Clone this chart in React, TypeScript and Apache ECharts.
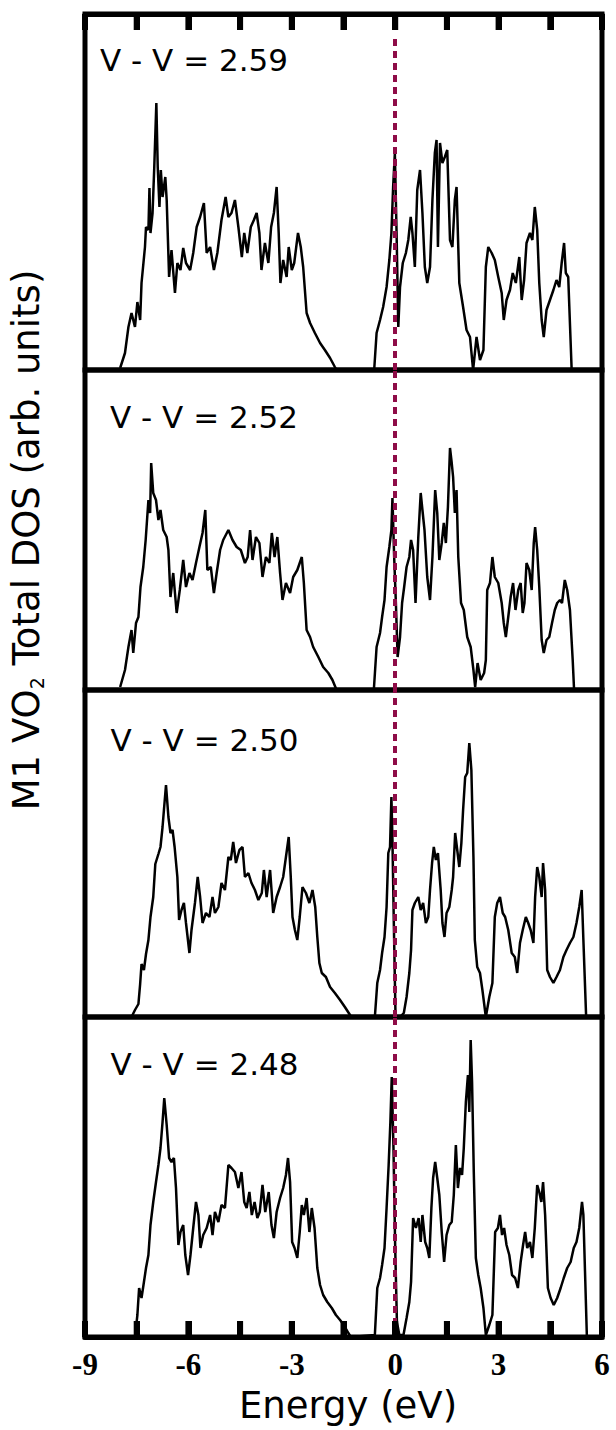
import React, { useEffect, useRef } from "react";
import * as echarts from "echarts";

// ---------- data ----------
const X_MIN = -9;
const X_MAX = 6;
const X_STEP = 1.5;
const X_LABELS = [-9, -6, -3, 0, 3, 6];
const TICK_ENERGIES = [-7.5, -6, -4.5, -3, -1.5, 0, 1.5, 3, 4.5];
const FERMI_LEVEL = 0;

const PANEL_LABELS = ["V - V = 2.59", "V - V = 2.52", "V - V = 2.50", "V - V = 2.48"];

const DOS_259: [number, number][] = [
  [-7.98, 2], [-7.84, 17], [-7.74, 43], [-7.65, 57], [-7.55, 43], [-7.48, 68], [-7.4, 50], [-7.36, 87],
  [-7.26, 123], [-7.23, 143], [-7.16, 140], [-7.13, 182], [-7.1, 137], [-7.04, 157], [-6.99, 203], [-6.93, 267],
  [-6.89, 203], [-6.84, 163], [-6.8, 200], [-6.75, 173], [-6.67, 193], [-6.63, 170], [-6.56, 93], [-6.49, 120],
  [-6.39, 77], [-6.32, 107], [-6.23, 100], [-6.15, 122], [-6.07, 107], [-5.95, 100], [-5.86, 117], [-5.76, 143],
  [-5.66, 153], [-5.55, 167], [-5.47, 117], [-5.37, 123], [-5.26, 100], [-5.16, 117], [-5.04, 150], [-4.92, 173],
  [-4.84, 153], [-4.75, 157], [-4.65, 170], [-4.55, 143], [-4.45, 113], [-4.38, 137], [-4.29, 117], [-4.19, 143],
  [-4.1, 150], [-4.02, 157], [-3.94, 137], [-3.88, 100], [-3.78, 127], [-3.68, 107], [-3.6, 143], [-3.52, 157],
  [-3.44, 183], [-3.38, 137], [-3.33, 87], [-3.25, 110], [-3.15, 93], [-3.09, 123], [-3.0, 100], [-2.93, 107],
  [-2.82, 137], [-2.74, 123], [-2.67, 103], [-2.57, 57], [-2.47, 47], [-2.33, 37], [-2.18, 27], [-2.04, 20],
  [-1.89, 12], [-1.75, 3], [-1.7, 0],
  [-0.61, 0], [-0.54, 37], [-0.44, 50], [-0.35, 63], [-0.25, 83], [-0.17, 110], [-0.11, 137], [-0.06, 183],
  [-0.01, 217], [0.04, 137], [0.09, 43], [0.14, 83], [0.22, 107], [0.31, 117], [0.38, 130], [0.45, 153],
  [0.5, 137], [0.57, 103], [0.64, 180], [0.72, 200], [0.79, 157], [0.86, 103], [0.93, 87], [1.01, 103],
  [1.08, 170], [1.15, 217], [1.2, 230], [1.24, 123], [1.3, 227], [1.37, 207], [1.44, 213], [1.51, 220],
  [1.59, 130], [1.66, 123], [1.73, 170], [1.78, 183], [1.86, 87], [1.97, 63], [2.07, 40], [2.17, 33],
  [2.26, 0], [2.36, 33], [2.46, 10], [2.56, 20], [2.63, 103], [2.7, 123], [2.8, 117], [2.89, 110],
  [2.99, 93], [3.09, 77], [3.15, 50], [3.23, 70], [3.33, 80], [3.41, 97], [3.5, 87], [3.6, 113],
  [3.67, 70], [3.74, 90], [3.81, 127], [3.91, 137], [3.98, 130], [4.05, 163], [4.12, 140], [4.18, 87],
  [4.25, 50], [4.31, 33], [4.39, 60], [4.49, 70], [4.59, 80], [4.68, 90], [4.76, 83], [4.83, 107],
  [4.9, 127], [4.95, 97], [5.02, 93], [5.12, 0],
];

const DOS_252: [number, number][] = [
  [-7.98, 3], [-7.84, 20], [-7.74, 43], [-7.65, 60], [-7.6, 37], [-7.52, 67], [-7.45, 73], [-7.39, 103],
  [-7.31, 123], [-7.24, 150], [-7.16, 190], [-7.11, 177], [-7.08, 227], [-7.02, 197], [-6.94, 190], [-6.87, 170],
  [-6.81, 180], [-6.73, 160], [-6.63, 153], [-6.58, 140], [-6.52, 93], [-6.44, 117], [-6.34, 77], [-6.25, 100],
  [-6.15, 130], [-6.07, 103], [-5.97, 117], [-5.88, 110], [-5.78, 127], [-5.68, 143], [-5.59, 157], [-5.51, 180],
  [-5.45, 120], [-5.35, 123], [-5.26, 97], [-5.18, 117], [-5.08, 140], [-4.99, 150], [-4.84, 160], [-4.72, 150],
  [-4.6, 143], [-4.48, 140], [-4.36, 127], [-4.28, 133], [-4.21, 160], [-4.14, 130], [-4.04, 153], [-3.94, 147],
  [-3.85, 113], [-3.75, 133], [-3.65, 127], [-3.58, 157], [-3.5, 133], [-3.42, 153], [-3.34, 117], [-3.27, 90],
  [-3.17, 107], [-3.05, 97], [-2.96, 113], [-2.84, 120], [-2.77, 127], [-2.71, 133], [-2.65, 107], [-2.57, 60],
  [-2.47, 53], [-2.38, 43], [-2.23, 33], [-2.09, 23], [-1.94, 17], [-1.82, 10], [-1.7, 0],
  [-0.62, 0], [-0.54, 43], [-0.44, 57], [-0.38, 73], [-0.31, 90], [-0.25, 123], [-0.17, 143], [-0.11, 160],
  [-0.08, 192], [-0.03, 133], [0.02, 87], [0.07, 33], [0.14, 53], [0.2, 87], [0.26, 103], [0.33, 123],
  [0.41, 133], [0.46, 150], [0.52, 140], [0.59, 87], [0.67, 153], [0.74, 197], [0.79, 180], [0.85, 160],
  [0.93, 113], [1.01, 90], [1.08, 133], [1.16, 200], [1.22, 177], [1.28, 130], [1.35, 147], [1.41, 167],
  [1.47, 147], [1.53, 183], [1.59, 242], [1.64, 227], [1.68, 213], [1.73, 177], [1.78, 200], [1.83, 133],
  [1.91, 87], [1.99, 80], [2.09, 53], [2.19, 43], [2.27, 20], [2.32, 3], [2.39, 27], [2.48, 10],
  [2.58, 17], [2.63, 30], [2.67, 100], [2.75, 107], [2.82, 133], [2.89, 113], [2.99, 107], [3.09, 87],
  [3.15, 67], [3.21, 53], [3.28, 73], [3.35, 93], [3.42, 107], [3.49, 80], [3.57, 100], [3.64, 107],
  [3.7, 77], [3.75, 87], [3.81, 127], [3.89, 120], [3.96, 100], [4.02, 147], [4.06, 163], [4.12, 140],
  [4.18, 103], [4.25, 50], [4.31, 37], [4.39, 50], [4.47, 53], [4.55, 67], [4.63, 80], [4.7, 87],
  [4.78, 90], [4.84, 87], [4.92, 110], [4.99, 100], [5.07, 80], [5.15, 30], [5.19, 0],
];

const DOS_250: [number, number][] = [
  [-7.65, 0], [-7.55, 7], [-7.45, 13], [-7.4, 33], [-7.36, 53], [-7.29, 47], [-7.23, 63], [-7.16, 77],
  [-7.1, 100], [-7.02, 120], [-6.96, 153], [-6.87, 163], [-6.81, 170], [-6.75, 190], [-6.71, 207], [-6.65, 232],
  [-6.58, 200], [-6.52, 184], [-6.46, 187], [-6.4, 170], [-6.32, 140], [-6.27, 97], [-6.2, 107], [-6.13, 114],
  [-6.07, 94], [-5.97, 64], [-5.91, 87], [-5.81, 114], [-5.73, 140], [-5.66, 120], [-5.59, 94], [-5.49, 104],
  [-5.39, 100], [-5.3, 120], [-5.23, 104], [-5.13, 110], [-5.04, 134], [-4.94, 127], [-4.84, 160], [-4.77, 157],
  [-4.7, 175], [-4.62, 154], [-4.52, 167], [-4.43, 170], [-4.36, 140], [-4.26, 144], [-4.17, 134], [-4.07, 127],
  [-3.97, 117], [-3.87, 124], [-3.81, 147], [-3.73, 120], [-3.63, 147], [-3.54, 104], [-3.44, 120], [-3.34, 130],
  [-3.25, 140], [-3.17, 160], [-3.09, 180], [-3.03, 140], [-2.98, 100], [-2.91, 87], [-2.84, 77], [-2.77, 100],
  [-2.69, 130], [-2.59, 124], [-2.49, 114], [-2.4, 127], [-2.32, 110], [-2.26, 80], [-2.2, 54], [-2.13, 44],
  [-2.01, 40], [-1.89, 30], [-1.75, 24], [-1.6, 17], [-1.46, 10], [-1.31, 2], [-1.26, 0],
  [-0.59, 0], [-0.52, 34], [-0.44, 47], [-0.38, 64], [-0.31, 80], [-0.25, 110], [-0.2, 164], [-0.15, 170],
  [-0.11, 220], [-0.08, 177], [-0.04, 94], [0.01, 0], [0.14, 0], [0.25, 4], [0.33, 20], [0.41, 44],
  [0.46, 67], [0.5, 107], [0.57, 114], [0.67, 120], [0.74, 107], [0.81, 114], [0.89, 94], [0.96, 100],
  [1.01, 127], [1.07, 154], [1.12, 170], [1.18, 157], [1.24, 164], [1.32, 127], [1.37, 94], [1.43, 80],
  [1.49, 104], [1.57, 110], [1.64, 127], [1.68, 140], [1.74, 184], [1.8, 167], [1.86, 150], [1.92, 174],
  [1.97, 207], [2.03, 240], [2.09, 244], [2.15, 274], [2.21, 247], [2.27, 160], [2.31, 77], [2.38, 50],
  [2.46, 44], [2.53, 27], [2.63, 0], [2.73, 20], [2.82, 34], [2.89, 100], [2.96, 114], [3.04, 120],
  [3.12, 104], [3.19, 100], [3.28, 87], [3.38, 64], [3.47, 60], [3.54, 44], [3.62, 74], [3.7, 87],
  [3.79, 100], [3.86, 94], [3.93, 87], [4.01, 74], [4.06, 120], [4.12, 150], [4.18, 140], [4.25, 120],
  [4.29, 154], [4.35, 127], [4.41, 47], [4.49, 40], [4.59, 34], [4.68, 40], [4.78, 47], [4.88, 60],
  [4.97, 67], [5.07, 74], [5.17, 80], [5.26, 94], [5.34, 110], [5.41, 127], [5.46, 77], [5.54, 0],
];

const DOS_248: [number, number][] = [
  [-7.55, 0], [-7.48, 22], [-7.43, 49], [-7.36, 39], [-7.29, 55], [-7.23, 69], [-7.16, 82], [-7.1, 112],
  [-7.02, 135], [-6.94, 155], [-6.87, 172], [-6.81, 189], [-6.75, 215], [-6.7, 239], [-6.63, 212], [-6.56, 179],
  [-6.49, 175], [-6.42, 179], [-6.36, 149], [-6.29, 92], [-6.23, 105], [-6.15, 112], [-6.09, 82], [-6.01, 62],
  [-5.94, 82], [-5.86, 109], [-5.78, 135], [-5.71, 122], [-5.65, 89], [-5.57, 102], [-5.47, 109], [-5.37, 122],
  [-5.3, 102], [-5.23, 125], [-5.13, 115], [-5.04, 132], [-4.94, 129], [-4.84, 172], [-4.75, 169], [-4.65, 165],
  [-4.55, 149], [-4.46, 165], [-4.38, 135], [-4.31, 129], [-4.23, 145], [-4.16, 122], [-4.08, 135], [-4.0, 119],
  [-3.93, 125], [-3.85, 152], [-3.77, 125], [-3.67, 145], [-3.59, 112], [-3.52, 99], [-3.44, 125], [-3.34, 139],
  [-3.25, 149], [-3.17, 162], [-3.11, 179], [-3.05, 155], [-2.99, 95], [-2.92, 89], [-2.84, 79], [-2.77, 105],
  [-2.71, 132], [-2.65, 122], [-2.57, 139], [-2.49, 105], [-2.42, 129], [-2.34, 109], [-2.26, 69], [-2.18, 52],
  [-2.09, 42], [-1.97, 35], [-1.84, 29], [-1.72, 22], [-1.6, 17], [-1.49, 12], [-1.36, 4], [-1.29, 0],
  [-0.59, 2], [-0.52, 49], [-0.44, 59], [-0.38, 72], [-0.31, 89], [-0.25, 129], [-0.19, 172], [-0.14, 215],
  [-0.1, 260], [-0.05, 189], [0.0, 89], [0.05, 15], [0.12, 2], [0.24, 2], [0.33, 19], [0.41, 35],
  [0.46, 55], [0.52, 119], [0.6, 109], [0.68, 119], [0.74, 95], [0.79, 122], [0.87, 95], [0.93, 89],
  [0.99, 79], [1.05, 129], [1.1, 159], [1.16, 175], [1.22, 159], [1.28, 142], [1.35, 105], [1.42, 75],
  [1.49, 102], [1.57, 112], [1.64, 115], [1.7, 142], [1.76, 192], [1.82, 149], [1.88, 169], [1.94, 162],
  [1.99, 189], [2.05, 235], [2.11, 262], [2.15, 225], [2.19, 297], [2.23, 255], [2.28, 165], [2.34, 79],
  [2.41, 62], [2.48, 49], [2.56, 29], [2.63, 2], [2.73, 12], [2.82, 22], [2.9, 105], [2.98, 109],
  [3.04, 122], [3.1, 102], [3.16, 109], [3.23, 92], [3.31, 82], [3.39, 62], [3.48, 59], [3.56, 49],
  [3.64, 75], [3.71, 92], [3.77, 105], [3.83, 89], [3.91, 95], [3.98, 79], [4.05, 109], [4.12, 152],
  [4.18, 145], [4.24, 135], [4.29, 155], [4.35, 122], [4.43, 49], [4.51, 39], [4.6, 32], [4.7, 39],
  [4.8, 49], [4.89, 59], [4.99, 69], [5.09, 75], [5.18, 89], [5.26, 95], [5.34, 109], [5.42, 135],
  [5.46, 122], [5.56, 2],
];

const PANEL_DOS = [DOS_259, DOS_252, DOS_250, DOS_248];
const PANEL_DOS_MAX = [356, 320, 327, 320];
const FERMI_LINE_TOP_P1 = 333;

// ---------- layout ----------
const W = 616;
const H = 1430;
const GRID_LEFT = 85;
const GRID_RIGHT = 14;
const GRID_TOPS = [14, 370, 690, 1017];
const GRID_HEIGHTS = [356, 320, 327, 320];
const TICK_PX = 16;
const TICK_W = 6;
const LABEL_POS: [number, number][] = [
  [100, 60],
  [110, 416.5],
  [110.5, 740],
  [110.5, 1063.5],
];
const FERMI_COLOR = "#8e0c47";

export default function App() {
  const ref = useRef<HTMLDivElement | null>(null);

  useEffect(() => {
    if (!ref.current) return;
    const chart = echarts.init(ref.current, undefined, { renderer: "svg" });

    const grids = GRID_TOPS.map((top, i) => ({
      left: GRID_LEFT,
      right: GRID_RIGHT,
      top,
      height: GRID_HEIGHTS[i],
      show: true,
      borderColor: "#000",
      borderWidth: 5,
    }));

    const labelFormatter = (v: number) =>
      X_LABELS.some((l) => Math.abs(l - v) < 1e-6) ? String(v) : "";

    const xAxes = GRID_TOPS.map((_, i) => {
      const edge = i === 0 || i === 3;
      return {
        type: "value",
        gridIndex: i,
        min: X_MIN,
        max: X_MAX,
        interval: X_STEP,
        position: i === 0 ? "top" : "bottom",
        axisLine: { show: edge, onZero: false, lineStyle: { color: "#000", width: 5 } },
        splitLine: { show: false },
        axisTick: {
          show: edge,
          inside: true,
          length: TICK_PX,
          lineStyle: { color: "#000", width: TICK_W },
        },
        axisLabel: {
          show: i === 3,
          margin: 12,
          color: "#000",
          fontFamily: "Liberation Serif",
          fontWeight: "bold",
          fontSize: 31,
          formatter: labelFormatter,
        },
      };
    });

    const yAxes = GRID_TOPS.map((_, i) => ({
      type: "value",
      gridIndex: i,
      min: 0,
      max: PANEL_DOS_MAX[i],
      show: false,
    }));

    const fermiStyle = { color: FERMI_COLOR, width: 4, type: [7, 5] as any };

    const series: any[] = PANEL_DOS.map((d, i) => ({
      type: "line",
      xAxisIndex: i,
      yAxisIndex: i,
      data: d,
      showSymbol: false,
      symbol: "none",
      lineStyle: { color: "#000", width: 2.5 },
      z: 3,
      markLine: {
        silent: true,
        symbol: ["none", "none"],
        label: { show: false },
        lineStyle: fermiStyle,
        data:
          i === 0
            ? [[{ coord: [FERMI_LEVEL, 0] }, { coord: [FERMI_LEVEL, FERMI_LINE_TOP_P1] }]]
            : [{ xAxis: FERMI_LEVEL }],
      },
    }));

    // Frame ticks drawn through the axes' own scales (custom series, one per framed edge).
    [0, 3].forEach((gi) => {
      series.push({
        type: "custom",
        xAxisIndex: gi,
        yAxisIndex: gi,
        clip: false,
        silent: true,
        z: 10,
        data: TICK_ENERGIES.map((e) => [e, gi === 0 ? PANEL_DOS_MAX[gi] : 0]),
        renderItem: (params: any, api: any) => {
          const p = api.coord([api.value(0), api.value(1)]);
          const dir = gi === 0 ? 1 : -1;
          return {
            type: "line",
            shape: { x1: p[0], y1: p[1], x2: p[0], y2: p[1] + dir * TICK_PX },
            style: { stroke: "#000", lineWidth: TICK_W },
          };
        },
      });
    });

    const graphic: any[] = PANEL_LABELS.map((t, i) => ({
      type: "text",
      x: LABEL_POS[i][0],
      y: LABEL_POS[i][1],
      style: {
        text: t,
        fill: "#000",
        fontSize: 31,
        fontFamily: "DejaVu Sans",
        align: "left",
        verticalAlign: "middle",
      },
    }));

    graphic.push({
      type: "text",
      x: 26,
      y: 540,
      rotation: Math.PI / 2,
      style: {
        text: "{a|M1 VO}{s|2}{a| Total DOS (arb. units)}",
        align: "center",
        verticalAlign: "middle",
        rich: {
          a: { fontSize: 37, fontFamily: "DejaVu Sans", fill: "#000", lineHeight: 40 },
          s: { fontSize: 19, fontFamily: "DejaVu Sans", fill: "#000", lineHeight: 24, verticalAlign: "bottom" },
        },
      },
    });

    graphic.push({
      type: "text",
      x: 348,
      y: 1405,
      style: {
        text: "Energy (eV)",
        fill: "#000",
        fontSize: 37,
        fontFamily: "DejaVu Sans",
        align: "center",
        verticalAlign: "middle",
      },
    });

    chart.setOption({
      animation: false,
      backgroundColor: "#fff",
      grid: grids,
      xAxis: xAxes,
      yAxis: yAxes,
      series,
      graphic,
    } as any);

    return () => chart.dispose();
  }, []);

  return (
    <div
      ref={ref}
      style={{ position: "absolute", left: 0, top: 0, width: W, height: H }}
    />
  );
}
